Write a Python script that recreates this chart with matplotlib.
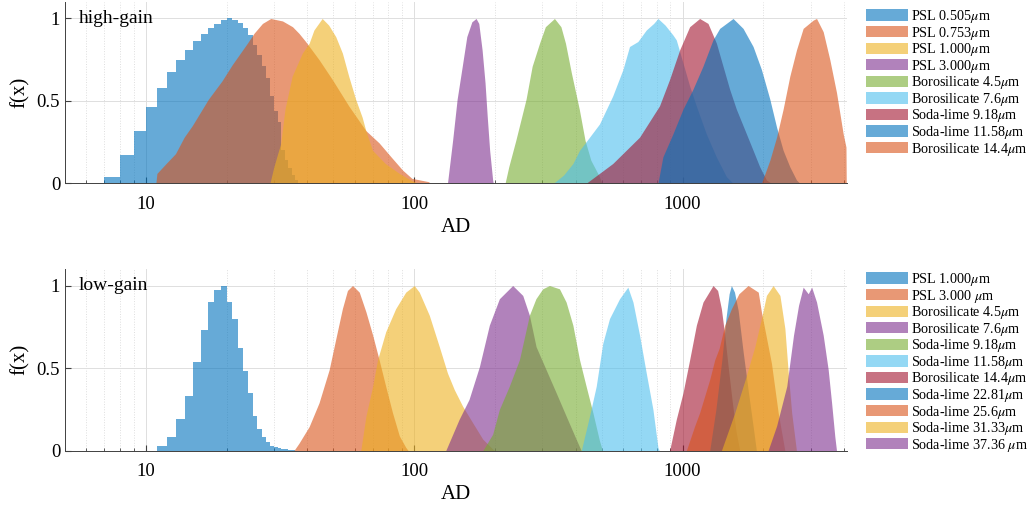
import numpy as np
import matplotlib.pyplot as plt
from matplotlib.ticker import FixedLocator, NullFormatter

# --- fonts (Times-like, MATLAB look) ---
plt.rcParams['font.family'] = ['Liberation Serif', 'DejaVu Serif']
plt.rcParams['mathtext.fontset'] = 'stix'

# MATLAB default colour order
C_BLUE = '#0072BD'
C_ORANGE = '#D95319'
C_YELLOW = '#EDB120'
C_PURPLE = '#7E2F8E'
C_GREEN = '#77AC30'
C_LBLUE = '#4DBEEE'
C_RED = '#A2142F'

# --- high-gain data (AD, normalised f) ---
# PSL 0.505: integer-AD bins, first bin starts at 7
hg_psl0505_first_bin = 7
hg_psl0505_f = [0.04, 0.17, 0.32, 0.465, 0.58, 0.675, 0.75, 0.81, 0.865, 0.905,
                0.94, 0.965, 0.99, 1.0, 0.99, 0.97, 0.94, 0.90, 0.84, 0.78,
                0.71, 0.64, 0.53, 0.44, 0.37, 0.20, 0.14, 0.09, 0.05, 0.02]

hg_psl0753_ad = [10.9, 11, 11.9, 12.9, 13.9, 14.9, 17.1, 19.2, 21, 23.9, 25.3, 27.2,
                 29.2, 32.3, 35.2, 37.2, 39.4, 44.2, 49.5, 57, 66, 74, 82, 90.5,
                 98, 113, 115]
hg_psl0753_f = [0, 0.06, 0.12, 0.18, 0.28, 0.35, 0.51, 0.62, 0.72, 0.85, 0.91, 0.97,
                1.0, 0.985, 0.95, 0.91, 0.86, 0.75, 0.63, 0.47, 0.32, 0.245, 0.16, 0.08,
                0.03, 0.01, 0]

hg_psl1000_ad = [29, 30, 31, 31.8, 33, 35.1, 38.3, 40.6, 42.3, 45.4, 48, 51, 54, 57,
                 60.5, 64, 66, 69.9, 78, 88, 97, 103]
hg_psl1000_f = [0, 0.1, 0.18, 0.24, 0.45, 0.65, 0.79, 0.85, 0.93, 1.0, 0.96, 0.89,
                0.79, 0.65, 0.51, 0.4, 0.32, 0.2, 0.12, 0.06, 0.02, 0]

hg_psl3000_ad = [133, 139, 144.5, 151, 157, 164, 170, 174, 179, 183.6, 187, 191, 196, 197]
hg_psl3000_f = [0, 0.26, 0.51, 0.71, 0.89, 0.98, 1.0, 0.97, 0.81, 0.61, 0.41, 0.2, 0.02, 0]

hg_boro45_ad = [218, 225, 239, 261, 275, 293, 308, 333, 352, 366, 385, 412, 433, 455,
                490, 500]
hg_boro45_f = [0, 0.1, 0.26, 0.51, 0.71, 0.85, 0.95, 1.0, 0.95, 0.85, 0.67, 0.45,
               0.26, 0.14, 0.04, 0]

hg_boro76_ad = [330, 360, 390, 413, 450, 490, 549, 599, 634, 681, 732, 780, 809, 860,
                920, 947, 1003, 1062, 1124, 1225, 1335, 1456, 1541]
hg_boro76_f = [0, 0.05, 0.12, 0.2, 0.28, 0.36, 0.53, 0.69, 0.83, 0.86, 0.93, 0.97,
               1.0, 0.96, 0.9, 0.87, 0.73, 0.59, 0.47, 0.30, 0.16, 0.04, 0]

hg_soda918_ad = [437, 549, 691, 820, 894, 975, 1062, 1157, 1243, 1336, 1414, 1497,
                 1585, 1728, 1830, 1937, 2052, 2142]
hg_soda918_f = [0, 0.12, 0.28, 0.47, 0.63, 0.81, 0.95, 1.0, 0.97, 0.85, 0.71, 0.57,
                0.45, 0.30, 0.2, 0.1, 0.02, 0]

hg_soda1158_ad = [809, 844, 920, 1003, 1092, 1190, 1297, 1374, 1541, 1679, 1830, 1966,
                  2113, 2239, 2368, 2508, 2656, 2733]
hg_soda1158_f = [0, 0.16, 0.30, 0.45, 0.57, 0.71, 0.87, 0.94, 1.0, 0.94, 0.83, 0.69,
                 0.51, 0.34, 0.2, 0.1, 0.02, 0]

hg_boro144_ad = [1966, 2113, 2239, 2368, 2508, 2656, 2812, 3064, 3154, 3339, 3535,
                 3744, 3964, 4060, 4070]
hg_boro144_f = [0, 0.14, 0.28, 0.45, 0.65, 0.81, 0.94, 0.99, 1.0, 0.92, 0.75, 0.55,
                0.3, 0.22, 0]

hg_labels = [r'PSL 0.505$\mu$m', r'PSL 0.753$\mu$m', r'PSL 1.000$\mu$m',
             r'PSL 3.000$\mu$m', r'Borosilicate 4.5$\mu$m', r'Borosilicate 7.6$\mu$m',
             r'Soda-lime 9.18$\mu$m', r'Soda-lime 11.58$\mu$m',
             r'Borosilicate 14.4$\mu$m']

# --- low-gain data ---
lg_psl1000_first_bin = 11
lg_psl1000_f = [0.03, 0.085, 0.19, 0.33, 0.54, 0.73, 0.90, 0.975, 1.0, 0.90, 0.80,
                0.62, 0.48, 0.35, 0.21, 0.13, 0.08, 0.05, 0.03, 0.02, 0.015, 0.01,
                0.008, 0.005, 0.003]

lg_psl3000_ad = [35.6, 37.2, 40.6, 44.2, 48.2, 51, 54, 56.4, 58.9, 62.4, 66.1, 70, 74,
                 78.3, 83, 88, 93, 95]
lg_psl3000_f = [0, 0.045, 0.146, 0.29, 0.49, 0.675, 0.86, 0.97, 1.0, 0.96, 0.84, 0.7,
                0.55, 0.39, 0.23, 0.09, 0.02, 0]

lg_boro45_ad = [63.2, 66.1, 70, 73, 78.3, 85.3, 93, 100, 104.4, 113.8, 124, 133, 141,
                151.4, 165, 180, 196, 200]
lg_boro45_f = [0, 0.21, 0.39, 0.55, 0.72, 0.86, 0.96, 1.0, 0.96, 0.82, 0.63, 0.47,
               0.37, 0.27, 0.17, 0.07, 0.01, 0]

lg_boro76_ad = [131, 147, 160, 175, 190.5, 207.6, 232.7, 253.7, 268.6, 284.4, 310, 338,
                368, 401, 419]
lg_boro76_f = [0, 0.19, 0.31, 0.51, 0.76, 0.92, 1.0, 0.94, 0.82, 0.63, 0.49, 0.35,
               0.21, 0.07, 0]

lg_soda918_ad = [180, 196, 207.6, 226, 246.5, 268.6, 284, 301, 319, 347.6, 368, 390,
                 413, 437, 463, 490, 503]
lg_soda918_f = [0, 0.1, 0.25, 0.39, 0.55, 0.82, 0.92, 0.98, 1.0, 0.98, 0.90, 0.76,
                0.55, 0.39, 0.23, 0.06, 0]

lg_soda1158_ad = [419, 450, 476.5, 504, 534, 582, 625, 653, 691, 732, 775, 809, 818]
lg_soda1158_f = [0, 0.21, 0.39, 0.65, 0.80, 0.92, 0.99, 0.90, 0.70, 0.47, 0.25, 0.02, 0]

lg_boro144_ad = [894, 947, 1003, 1062, 1125, 1191, 1298, 1350, 1394, 1435, 1480, 1530,
                 1580, 1633]
lg_boro144_f = [0, 0.19, 0.35, 0.55, 0.76, 0.9, 1.0, 0.97, 0.86, 0.70, 0.5, 0.3, 0.12, 0]

lg_soda2281_ad = [1261, 1330, 1400, 1450, 1490, 1519, 1560, 1610, 1680, 1760, 1830, 1883]
lg_soda2281_f = [0, 0.25, 0.55, 0.8, 0.95, 1.0, 0.96, 0.85, 0.6, 0.35, 0.15, 0]

lg_soda256_ad = [1032, 1109, 1157, 1261, 1317, 1368, 1435, 1520, 1620, 1753, 1913, 1966,
                 2142, 2270, 2404]
lg_soda256_f = [0, 0.15, 0.23, 0.43, 0.55, 0.62, 0.76, 0.86, 0.95, 1.0, 0.96, 0.84,
                0.53, 0.23, 0]

lg_soda3133_ad = [1394, 1564, 1710, 1858, 1966, 2052, 2173, 2304, 2404, 2475, 2548, 2655]
lg_soda3133_f = [0, 0.23, 0.43, 0.63, 0.8, 0.94, 1.0, 0.94, 0.74, 0.47, 0.23, 0]

lg_soda3736_ad = [2080, 2239, 2443, 2589, 2703, 2812, 2937, 3025, 3154, 3339, 3486,
                  3589, 3690, 3744]
lg_soda3736_f = [0, 0.15, 0.39, 0.7, 0.88, 0.99, 0.95, 0.99, 0.9, 0.7, 0.49, 0.29,
                 0.085, 0]

lg_labels = [r'PSL 1.000$\mu$m', r'PSL 3.000 $\mu$m', r'Borosilicate 4.5$\mu$m',
             r'Borosilicate 7.6$\mu$m', r'Soda-lime 9.18$\mu$m', r'Soda-lime 11.58$\mu$m',
             r'Borosilicate 14.4$\mu$m', r'Soda-lime 22.81$\mu$m', r'Soda-lime 25.6$\mu$m',
             r'Soda-lime 31.33$\mu$m', r'Soda-lime 37.36 $\mu$m']

ALPHA = 0.6
X_MIN, X_MAX = 5, 4096


def style_axes(ax, tag):
    ax.set_xscale('log')
    ax.set_xlim(X_MIN, X_MAX)
    ax.set_ylim(0, 1.1)
    ax.xaxis.set_major_locator(FixedLocator([10, 100, 1000]))
    ax.set_xticklabels(['10', '100', '1000'])
    minors = [m * 10 ** e for e in range(0, 4) for m in range(2, 10)]
    ax.xaxis.set_minor_locator(FixedLocator([v for v in minors if X_MIN <= v <= X_MAX]))
    ax.xaxis.set_minor_formatter(NullFormatter())
    ax.set_yticks([0, 0.5, 1])
    ax.set_yticklabels(['0', '0.5', '1'])
    ax.set_axisbelow(True)
    ax.grid(True, which='major', color='#dedede', lw=0.7)
    ax.grid(True, which='minor', axis='x', color='#dedede', lw=0.7, ls=':')
    for s in ['top', 'right']:
        ax.spines[s].set_visible(False)
    for s in ['left', 'bottom']:
        ax.spines[s].set_color('#404040')
        ax.spines[s].set_linewidth(0.7)
    ax.tick_params(which='both', direction='in', colors='#404040', labelcolor='black',
                   labelsize=13.5)
    ax.tick_params(which='major', length=4)
    ax.tick_params(which='minor', length=2)
    ax.tick_params(axis='x', which='major', pad=9)
    ax.set_xlabel('AD', fontsize=15)
    ax.xaxis.set_label_coords(0.5, -0.19)
    ax.set_ylabel('f(x)', fontsize=15)
    ax.yaxis.set_label_coords(-0.045, 0.5)
    ax.text(0.018, 0.91, tag, transform=ax.transAxes, va='center', ha='left',
            fontsize=14)


fig = plt.figure(figsize=(10.29, 5.05), dpi=100)
ax1 = fig.add_axes([65 / 1029, 1 - 183.3 / 505, 782 / 1029, 181.3 / 505])
ax2 = fig.add_axes([65 / 1029, 1 - 450.7 / 505, 782 / 1029, 181.7 / 505])

# --- high-gain panel ---
hg_series = [
    (hg_psl0753_ad, hg_psl0753_f, C_ORANGE),
    (hg_psl1000_ad, hg_psl1000_f, C_YELLOW),
    (hg_psl3000_ad, hg_psl3000_f, C_PURPLE),
    (hg_boro45_ad, hg_boro45_f, C_GREEN),
    (hg_boro76_ad, hg_boro76_f, C_LBLUE),
    (hg_soda918_ad, hg_soda918_f, C_RED),
    (hg_soda1158_ad, hg_soda1158_f, C_BLUE),
    (hg_boro144_ad, hg_boro144_f, C_ORANGE),
]
hg_handles = []
edges = np.arange(hg_psl0505_first_bin, hg_psl0505_first_bin + len(hg_psl0505_f) + 1)
hg_handles.append(ax1.stairs(hg_psl0505_f, edges, fill=True, color=C_BLUE,
                             alpha=ALPHA, lw=0))
for ad, f, c in hg_series:
    hg_handles.append(ax1.fill_between(ad, f, 0, color=c, alpha=ALPHA, lw=0))
style_axes(ax1, 'high-gain')

# --- low-gain panel ---
lg_series = [
    (lg_psl3000_ad, lg_psl3000_f, C_ORANGE),
    (lg_boro45_ad, lg_boro45_f, C_YELLOW),
    (lg_boro76_ad, lg_boro76_f, C_PURPLE),
    (lg_soda918_ad, lg_soda918_f, C_GREEN),
    (lg_soda1158_ad, lg_soda1158_f, C_LBLUE),
    (lg_boro144_ad, lg_boro144_f, C_RED),
    (lg_soda2281_ad, lg_soda2281_f, C_BLUE),
    (lg_soda256_ad, lg_soda256_f, C_ORANGE),
    (lg_soda3133_ad, lg_soda3133_f, C_YELLOW),
    (lg_soda3736_ad, lg_soda3736_f, C_PURPLE),
]
lg_handles = []
edges = np.arange(lg_psl1000_first_bin, lg_psl1000_first_bin + len(lg_psl1000_f) + 1)
lg_handles.append(ax2.stairs(lg_psl1000_f, edges, fill=True, color=C_BLUE,
                             alpha=ALPHA, lw=0))
for ad, f, c in lg_series:
    lg_handles.append(ax2.fill_between(ad, f, 0, color=c, alpha=ALPHA, lw=0))
style_axes(ax2, 'low-gain')

# legends outside on the right
leg_kw = dict(loc='upper left', frameon=False, fontsize=10.2, handlelength=2.94,
              handleheight=0.85, handletextpad=0.25, labelspacing=-0.03,
              borderpad=0, borderaxespad=0)
fig.legend(hg_handles, hg_labels, bbox_to_anchor=(866 / 1029, 1 - 8 / 505), **leg_kw)
fig.legend(lg_handles, lg_labels, bbox_to_anchor=(866 / 1029, 1 - 271 / 505), **leg_kw)

fig.savefig('out.png', dpi=100)
